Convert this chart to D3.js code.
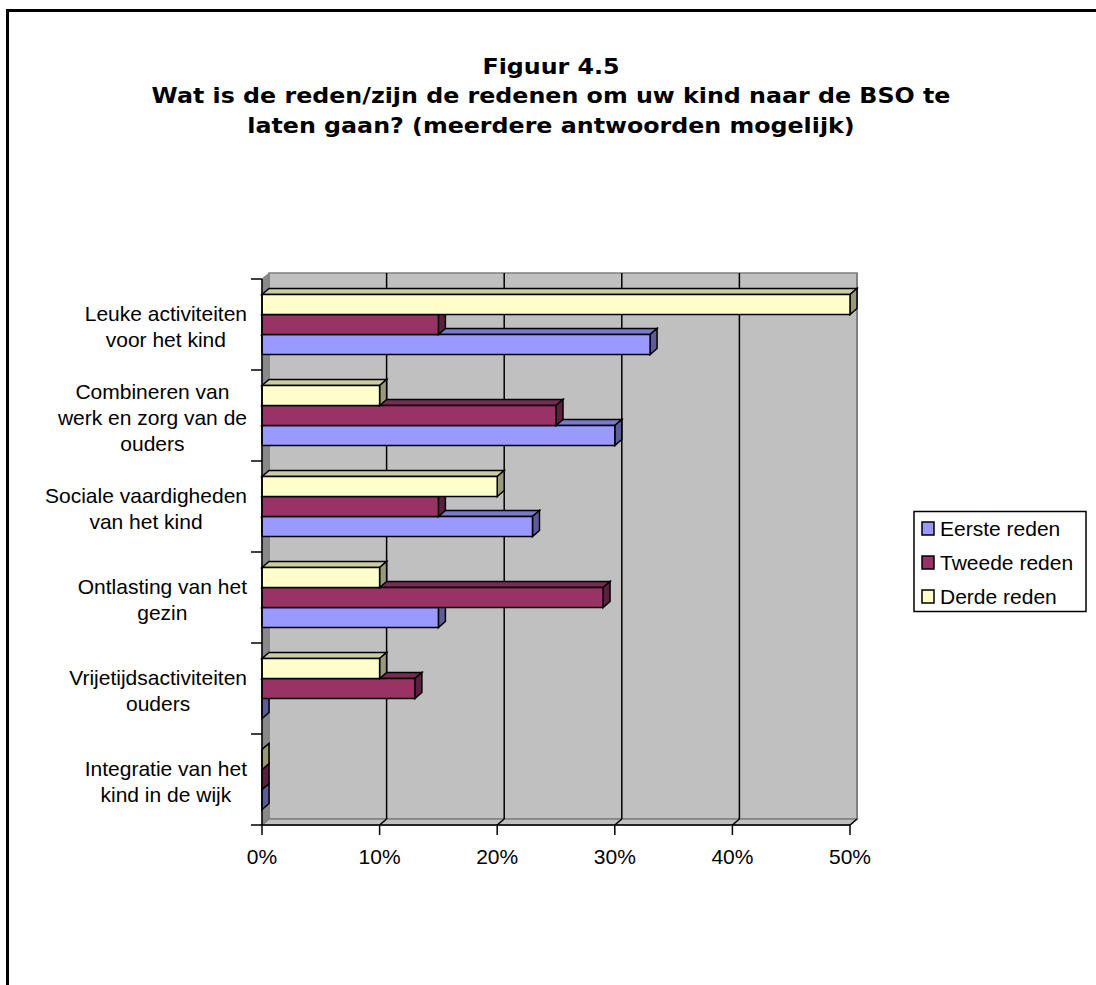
<!DOCTYPE html>
<html>
<head>
<meta charset="utf-8">
<script src="https://cdn.jsdelivr.net/npm/d3@7/dist/d3.min.js"></script>
<style>
  html, body { margin: 0; padding: 0; background: #ffffff; }
  svg { display: block; }
</style>
</head>
<body>
<svg id="chart" width="1096" height="985"></svg>
<script>
// ---- Data ----
const titleLines = ["Figuur 4.5", "Wat is de reden/zijn de redenen om uw kind naar de BSO te", "laten gaan? (meerdere antwoorden mogelijk)"];
const categories = [
  ["Leuke activiteiten", "voor het kind"],
  ["Combineren van", "werk en zorg van de", "ouders"],
  ["Sociale vaardigheden", "van het kind"],
  ["Ontlasting van het", "gezin"],
  ["Vrijetijdsactiviteiten", "ouders"],
  ["Integratie van het", "kind in de wijk"]
];
const seriesNames = ["Eerste reden", "Tweede reden", "Derde reden"];
const eersteReden = [33, 30, 23, 15, 0, 0];
const tweedeReden = [15, 25, 15, 29, 13, 0];
const derdeReden  = [50, 10, 20, 10, 10, 0];
const xTicks = [0, 10, 20, 30, 40, 50];
const tickLabels = ["0%", "10%", "20%", "30%", "40%", "50%"];
const seriesColors = ["#9999FF", "#993366", "#FFFFCC"];

// ---- Layout ----
(function () {
const svg = d3.select("#chart");
const FONT = "'Liberation Sans', Arial, sans-serif";
const pL = 262, pR = 850, pT = 279, pB = 825;
const dx = 7, dy = -6;        // 3D depth offset
const barH = 20;

const seriesValues = [eersteReden, tweedeReden, derdeReden];
const catIdx = d3.range(categories.length);

const x = d3.scaleLinear().domain([0, 50]).range([pL, pR]);
const y = d3.scaleBand().domain(catIdx).range([pT, pB]);
const inner = d3.scaleBand().domain([2, 1, 0]).range([0, barH * 3]);
const groupOffset = (y.bandwidth() - barH * 3) / 2;

// outer border
svg.append("rect").attr("x", 7.5).attr("y", 10.5).attr("width", 1200).attr("height", 1100)
  .attr("fill", "none").attr("stroke", "#000").attr("stroke-width", 3);

// title
svg.append("g").attr("transform", "translate(551,0) scale(1.08,1)")
  .selectAll("text").data(titleLines).join("text")
  .attr("x", 0).attr("y", (d, i) => [74, 103, 133][i])
  .attr("text-anchor", "middle")
  .attr("font-family", "'DejaVu Sans', Verdana, sans-serif")
  .attr("font-weight", "bold").attr("font-size", 22)
  .text(d => d);

function shade(c, k) {
  const r = d3.rgb(c);
  return d3.rgb(r.r * k, r.g * k, r.b * k).formatHex();
}

// walls
const walls = svg.append("g");
walls.append("rect").attr("x", pL + dx).attr("y", pT + dy)
  .attr("width", pR - pL).attr("height", pB - pT)
  .attr("fill", "#C0C0C0").attr("stroke", "#808080").attr("stroke-width", 1.5);
walls.append("path")
  .attr("d", `M${pL},${pT} L${pL + dx},${pT + dy} L${pL + dx},${pB + dy} L${pL},${pB} Z`)
  .attr("fill", "#8a8a8a").attr("stroke", "#808080").attr("stroke-width", 1);
walls.append("path")
  .attr("d", `M${pL},${pB} L${pL + dx},${pB + dy} L${pR + dx},${pB + dy} L${pR},${pB} Z`)
  .attr("fill", "#C0C0C0").attr("stroke", "#808080").attr("stroke-width", 1.5);

// gridlines on back wall + floor diagonals
const grid = svg.append("g");
xTicks.slice(1).forEach(v => {
  grid.append("line").attr("x1", x(v) + dx).attr("x2", x(v) + dx)
    .attr("y1", pT + dy).attr("y2", pB + dy)
    .attr("stroke", v === 50 ? "#808080" : "#000").attr("stroke-width", v === 50 ? 2 : 1.5);
  grid.append("line").attr("x1", x(v)).attr("x2", x(v) + dx)
    .attr("y1", pB).attr("y2", pB + dy)
    .attr("stroke", "#000").attr("stroke-width", 1.5);
});

// bars (draw bottom to top so upper bars cover lower top faces)
const bars = svg.append("g").attr("stroke", "#000").attr("stroke-width", 1.5).attr("stroke-linejoin", "miter");
const items = [];
catIdx.forEach(ci => {
  [0, 1, 2].forEach(si => items.push({ ci, si, v: seriesValues[si][ci] }));
});
const barY = d => y(d.ci) + groupOffset + inner(d.si);
items.sort((a, b) => barY(b) - barY(a));
items.forEach(d => {
  const y0 = barY(d);
  const y1 = y0 + barH;
  const x0 = x(0), x1 = x(d.v);
  const c = seriesColors[d.si];
  const g = bars.append("g");
  g.append("path")
    .attr("d", `M${x0},${y0} L${x0 + dx},${y0 + dy} L${x1 + dx},${y0 + dy} L${x1},${y0} Z`)
    .attr("fill", shade(c, 0.8));
  g.append("path")
    .attr("d", `M${x1},${y0} L${x1 + dx},${y0 + dy} L${x1 + dx},${y1 + dy} L${x1},${y1} Z`)
    .attr("fill", shade(c, 0.6));
  if (x1 > x0) {
    g.append("rect").attr("x", x0).attr("y", y0).attr("width", x1 - x0).attr("height", barH)
      .attr("fill", c);
  }
});

// axes
const axes = svg.append("g").attr("stroke", "#000").attr("stroke-width", 1.5);
axes.append("line").attr("x1", pL).attr("x2", pL).attr("y1", pT).attr("y2", pB);
axes.append("line").attr("x1", pL).attr("x2", pR).attr("y1", pB).attr("y2", pB);
const catBounds = catIdx.map(i => y(i)).concat([pB]);
catBounds.forEach(b => {
  axes.append("line").attr("x1", pL - 11).attr("x2", pL).attr("y1", b).attr("y2", b);
});
xTicks.forEach(v => {
  axes.append("line").attr("x1", x(v)).attr("x2", x(v)).attr("y1", pB).attr("y2", pB + 10);
});

// x tick labels
svg.append("g").selectAll("text").data(xTicks).join("text")
  .attr("x", d => x(d)).attr("y", 864)
  .attr("text-anchor", "middle")
  .attr("font-family", FONT).attr("font-size", 21)
  .text((d, i) => tickLabels[i]);

// category labels: block right-aligned at x=247, lines centered in block
const labelRight = 247, lineH = 26;
const labG = svg.append("g").attr("font-family", FONT).attr("font-size", 21);
categories.forEach((lines, ci) => {
  const cy = y(ci) + y.bandwidth() / 2;
  const txts = lines.map((ln, li) => labG.append("text")
    .attr("text-anchor", "middle")
    .attr("y", cy + (li - (lines.length - 1) / 2) * lineH + 9)
    .text(ln));
  const maxW = d3.max(txts, t => t.node().getComputedTextLength());
  txts.forEach(t => t.attr("x", labelRight - maxW / 2));
});

// legend
const lg = svg.append("g");
lg.append("rect").attr("x", 914).attr("y", 511.5).attr("width", 172).attr("height", 100)
  .attr("fill", "#fff").attr("stroke", "#000").attr("stroke-width", 1.5);
seriesNames.forEach((n, i) => {
  const yy = 522 + i * 34;
  lg.append("rect").attr("x", 922).attr("y", yy).attr("width", 12).attr("height", 13)
    .attr("fill", seriesColors[i]).attr("stroke", "#000").attr("stroke-width", 1.5);
  lg.append("text").attr("x", 940).attr("y", yy + 14)
    .attr("font-family", FONT).attr("font-size", 21).text(n);
});
})();
</script>
</body>
</html>
